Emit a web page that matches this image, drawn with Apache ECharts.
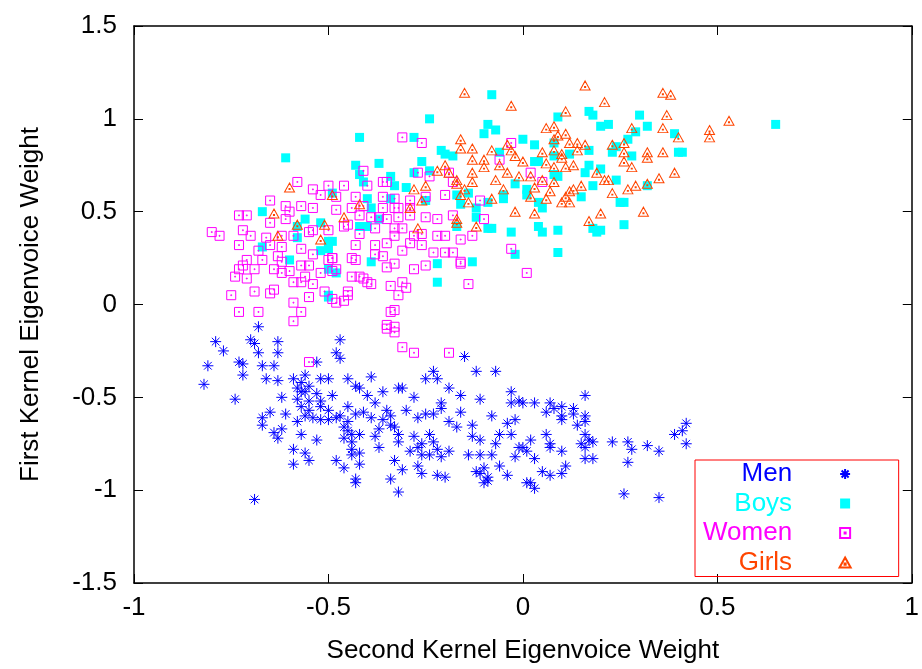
<!DOCTYPE html>
<html>
<head>
<meta charset="utf-8">
<script src="https://cdn.jsdelivr.net/npm/echarts@6/dist/echarts.min.js"></script>
<style>
  html, body { margin: 0; padding: 0; background: #fff; }
  #chart { width: 922px; height: 669px; }
</style>
</head>
<body>
<div id="chart"></div>
<script>
// [second weight, first weight] per speaker
const men = [
  [-0.79,-0.20],[-0.77,-0.25],[-0.70,-0.19],[-0.69,-0.21],[-0.63,-0.20],[-0.47,-0.19],[-0.68,-0.12],
  [-0.68,-0.26],[-0.63,-0.26],[-0.48,-0.26],[-0.47,-0.29],[-0.81,-0.33],[-0.73,-0.31],[-0.72,-0.32],
  [-0.72,-0.38],[-0.67,-0.33],[-0.64,-0.33],[-0.53,-0.31],[-0.82,-0.43],[-0.66,-0.40],[-0.63,-0.41],
  [-0.59,-0.40],[-0.56,-0.38],[-0.52,-0.40],[-0.50,-0.40],[-0.45,-0.40],[-0.43,-0.44],[-0.74,-0.51],
  [-0.62,-0.50],[-0.58,-0.45],[-0.56,-0.47],[-0.58,-0.51],[-0.55,-0.52],[-0.52,-0.52],[-0.49,-0.49],
  [-0.57,-0.55],[-0.52,-0.55],[-0.45,-0.55],[-0.43,-0.59],[-0.65,-0.58],[-0.67,-0.61],[-0.67,-0.65],
  [-0.61,-0.59],[-0.58,-0.63],[-0.56,-0.60],[-0.54,-0.61],[-0.52,-0.62],[-0.50,-0.62],[-0.48,-0.61],
  [-0.46,-0.66],[-0.45,-0.68],[-0.64,-0.69],[-0.63,-0.72],[-0.62,-0.67],[-0.57,-0.70],[-0.53,-0.73],
  [-0.46,-0.72],[-0.44,-0.78],[-0.44,-0.81],[-0.59,-0.78],[-0.56,-0.80],[-0.55,-0.84],[-0.48,-0.84],
  [-0.46,-0.88],[-0.59,-0.86],[-0.43,-0.94],[-0.69,-1.05],
  [-0.57,-0.47],[-0.55,-0.44],[-0.53,-0.48],[-0.50,-0.57],[-0.47,-0.60],[-0.45,-0.63],[-0.44,-0.70],
  [-0.44,-0.74],[-0.57,-0.42],[-0.55,-0.57],
  [-0.15,-0.28],[-0.23,-0.36],[-0.25,-0.40],[-0.22,-0.40],[-0.12,-0.36],[-0.07,-0.36],[-0.39,-0.39],
  [-0.36,-0.47],[-0.42,-0.45],[-0.32,-0.45],[-0.31,-0.45],[-0.28,-0.50],[-0.19,-0.45],[-0.16,-0.49],
  [-0.03,-0.47],[-0.11,-0.51],[-0.03,-0.53],[-0.01,-0.52],[-0.21,-0.53],[-0.38,-0.53],[-0.35,-0.57],
  [-0.30,-0.57],[-0.27,-0.61],[-0.25,-0.59],[-0.23,-0.59],[-0.21,-0.56],[-0.16,-0.58],[-0.39,-0.61],
  [-0.19,-0.63],[-0.17,-0.66],[-0.13,-0.65],[-0.08,-0.60],[-0.04,-0.64],[-0.02,-0.62],[-0.37,-0.67],
  [-0.34,-0.65],[-0.33,-0.66],[-0.32,-0.70],[-0.42,-0.70],[-0.38,-0.71],[-0.28,-0.71],[-0.24,-0.70],
  [-0.23,-0.74],[-0.13,-0.71],[-0.11,-0.73],[-0.06,-0.70],[-0.03,-0.70],[-0.07,-0.75],[-0.01,-0.77],
  [-0.37,-0.77],[-0.27,-0.77],[-0.32,-0.74],[-0.29,-0.79],[-0.26,-0.81],[-0.24,-0.81],[-0.21,-0.82],
  [-0.19,-0.79],[-0.14,-0.81],[-0.11,-0.81],[-0.08,-0.81],[-0.02,-0.82],[-0.42,-0.80],[-0.42,-0.86],
  [-0.33,-0.84],[-0.27,-0.87],[-0.31,-0.89],[-0.26,-0.91],[-0.34,-0.94],[-0.22,-0.92],[-0.20,-0.93],
  [-0.11,-0.91],[-0.09,-0.93],[-0.06,-0.87],[-0.04,-0.92],[-0.10,-0.96],[-0.09,-0.95],[-0.43,-0.96],
  [-0.32,-1.01],[0.01,-0.96],
  [-0.12,-0.90],[-0.10,-0.88],[-0.36,-0.62],[-0.34,-0.60],[-0.26,-0.75],[-0.22,-0.78],[-0.40,-0.49],
  [-0.41,-0.58],
  [0.16,-0.49],[0.00,-0.53],[0.03,-0.53],[0.07,-0.53],[0.06,-0.58],[0.08,-0.56],[0.10,-0.55],
  [0.13,-0.56],[0.10,-0.60],[0.10,-0.62],[0.13,-0.59],[0.16,-0.60],[0.16,-0.63],[0.14,-0.65],
  [0.16,-0.70],[0.17,-0.73],[0.18,-0.74],[0.15,-0.75],[0.16,-0.77],[0.06,-0.70],[0.07,-0.75],
  [0.07,-0.77],[0.02,-0.73],[0.00,-0.77],[0.01,-0.79],[0.03,-0.83],[0.10,-0.79],[0.16,-0.83],
  [0.18,-0.83],[0.23,-0.74],[0.27,-0.74],[0.28,-0.78],[0.32,-0.76],[0.35,-0.79],[0.27,-0.85],
  [0.39,-0.70],[0.41,-0.68],[0.42,-0.64],[0.42,-0.75],[0.05,-0.90],[0.07,-0.92],[0.10,-0.91],
  [0.11,-0.87],[0.02,-0.96],[0.03,-0.99],[0.26,-1.02],[0.35,-1.04]
];

const boys = [
  [-0.67,0.50],[-0.56,0.46],[-0.58,0.42],[-0.58,0.36],[-0.52,0.44],[-0.52,0.29],[-0.50,0.30],
  [-0.50,0.34],[-0.60,0.24],[-0.67,0.31],[-0.50,0.19],[-0.50,0.04],
  [-0.24,1.00],[-0.42,0.90],[-0.28,0.90],[-0.37,0.76],[-0.43,0.75],[-0.42,0.70],[-0.34,0.69],
  [-0.26,0.77],[-0.21,0.83],[-0.20,0.81],[-0.18,0.80],[-0.28,0.71],[-0.24,0.72],[-0.41,0.66],
  [-0.33,0.64],[-0.30,0.63],[-0.34,0.57],[-0.40,0.57],[-0.39,0.52],[-0.25,0.56],[-0.17,0.59],
  [-0.14,0.60],[-0.49,0.60],[-0.42,0.42],[-0.40,0.42],[-0.37,0.46],[-0.49,0.34],[-0.12,0.47],
  [-0.17,0.42],[-0.39,0.23],[-0.48,0.17],[-0.22,0.22],[-0.13,0.23],[-0.22,0.12],[-0.50,0.05],
  [-0.61,0.79],
  [-0.08,1.13],[0.09,1.01],[0.17,1.04],[0.18,1.02],[0.20,0.96],[0.22,0.97],[-0.09,0.97],
  [-0.10,0.92],[-0.07,0.94],[0.00,0.89],[0.03,0.86],[0.08,0.87],[0.08,0.80],[0.12,0.81],
  [0.17,0.83],[0.23,0.82],[0.24,0.85],[0.04,0.77],[0.03,0.77],[-0.06,0.82],[0.17,0.75],
  [0.20,0.73],[0.16,0.71],[0.08,0.70],[0.09,0.69],[0.18,0.64],[0.24,0.67],[-0.02,0.65],
  [0.01,0.62],[0.01,0.59],[0.04,0.55],[0.05,0.52],[0.15,0.58],[0.25,0.55],[-0.05,0.59],
  [-0.05,0.57],[-0.09,0.55],[-0.12,0.52],[-0.16,0.54],[-0.09,0.41],[-0.08,0.41],[-0.03,0.39],
  [0.04,0.42],[0.05,0.39],[0.09,0.40],[0.18,0.41],[0.19,0.39],[-0.02,0.27],[0.09,0.28],
  [0.65,0.97],[0.30,1.02],[0.32,0.96],[0.29,0.93],[0.39,0.92],[0.27,0.89],[0.40,0.82],
  [0.41,0.82],[0.28,0.80],[0.32,0.64],[0.26,0.55],[0.26,0.43],[0.20,0.40]
];

const women = [
  [-0.58,0.66],[-0.54,0.62],[-0.50,0.64],[-0.52,0.59],[-0.65,0.56],[-0.61,0.53],[-0.60,0.50],
  [-0.57,0.53],[-0.54,0.52],[-0.73,0.48],[-0.71,0.48],[-0.61,0.46],[-0.65,0.44],[-0.80,0.39],
  [-0.78,0.37],[-0.72,0.40],[-0.70,0.37],[-0.66,0.36],[-0.62,0.37],[-0.59,0.37],[-0.55,0.39],
  [-0.54,0.40],[-0.73,0.32],[-0.68,0.29],[-0.65,0.32],[-0.62,0.31],[-0.57,0.30],[-0.54,0.27],
  [-0.49,0.25],[-0.71,0.24],[-0.67,0.24],[-0.63,0.26],[-0.62,0.23],[-0.73,0.19],[-0.72,0.21],
  [-0.74,0.15],[-0.71,0.14],[-0.69,0.19],[-0.64,0.19],[-0.62,0.17],[-0.60,0.18],[-0.57,0.21],
  [-0.55,0.21],[-0.52,0.17],[-0.56,0.15],[-0.59,0.12],[-0.57,0.12],[-0.54,0.11],[-0.51,0.07],
  [-0.55,0.04],[-0.49,0.03],[-0.75,0.05],[-0.69,0.07],[-0.65,0.06],[-0.64,0.08],[-0.59,0.01],
  [-0.73,-0.04],[-0.68,-0.04],[-0.57,-0.04],[-0.59,-0.09],[-0.55,-0.31],
  [-0.35,-0.13],[-0.33,-0.15],[-0.31,-0.23],[-0.28,-0.26],[-0.19,-0.26],
  [-0.31,0.90],[-0.26,0.87],[-0.41,0.72],[-0.27,0.71],[-0.24,0.69],[-0.19,0.71],[-0.18,0.66],
  [-0.46,0.64],[-0.40,0.64],[-0.36,0.66],[-0.35,0.66],[-0.48,0.58],[-0.43,0.58],[-0.36,0.58],
  [-0.33,0.57],[-0.29,0.56],[-0.25,0.58],[-0.20,0.59],[-0.48,0.51],[-0.44,0.52],[-0.41,0.53],
  [-0.36,0.52],[-0.33,0.52],[-0.32,0.52],[-0.29,0.52],[-0.42,0.48],[-0.39,0.47],[-0.37,0.47],
  [-0.35,0.46],[-0.32,0.47],[-0.29,0.48],[-0.25,0.47],[-0.22,0.46],[-0.18,0.48],[-0.46,0.42],
  [-0.45,0.43],[-0.38,0.41],[-0.33,0.41],[-0.31,0.41],[-0.42,0.38],[-0.33,0.37],[-0.28,0.37],
  [-0.26,0.38],[-0.22,0.37],[-0.20,0.37],[-0.16,0.35],[-0.13,0.37],[-0.50,0.40],[-0.43,0.32],
  [-0.38,0.32],[-0.35,0.33],[-0.31,0.29],[-0.29,0.33],[-0.26,0.32],[-0.23,0.28],[-0.20,0.28],
  [-0.18,0.28],[-0.38,0.27],[-0.36,0.26],[-0.49,0.25],[-0.44,0.25],[-0.43,0.24],[-0.33,0.22],
  [-0.35,0.20],[-0.28,0.19],[-0.25,0.21],[-0.16,0.23],[-0.48,0.19],[-0.44,0.15],[-0.42,0.15],
  [-0.41,0.14],[-0.40,0.12],[-0.39,0.11],[-0.34,0.10],[-0.31,0.12],[-0.30,0.09],[-0.32,0.05],
  [-0.14,0.11],[-0.45,0.07],[-0.45,0.05],[-0.48,0.01],[-0.46,0.02],[-0.33,-0.03],[-0.34,-0.04],
  [-0.35,-0.11],[-0.33,-0.12],[-0.50,0.24],[-0.49,0.18],
  [-0.03,0.87],[-0.06,0.78],[0.02,0.71],[0.05,0.66],[-0.11,0.56],[-0.10,0.46],[-0.03,0.30],
  [0.01,0.17],[-0.16,0.22]
];

const girls = [
  [-0.60,0.63],[-0.64,0.49],[-0.58,0.43],[-0.51,0.43],[-0.63,0.37],[-0.52,0.35],[-0.49,0.59],
  [-0.16,0.89],[-0.13,0.84],[-0.16,0.84],[-0.13,0.78],[-0.13,0.71],[-0.20,0.75],[-0.22,0.72],
  [-0.19,0.71],[-0.17,0.67],[-0.17,0.65],[-0.13,0.66],[-0.15,0.62],[-0.16,0.59],[-0.14,0.55],
  [-0.25,0.64],[-0.28,0.62],[-0.26,0.56],[-0.29,0.52],[-0.42,0.54],[-0.46,0.47],[-0.27,0.41],
  [-0.17,0.46],[-0.17,0.44],[-0.12,0.42],
  [-0.15,1.14],[0.16,1.18],[-0.03,1.07],[0.21,1.09],[0.11,1.04],[0.06,0.95],[0.08,0.96],
  [0.09,0.91],[0.11,0.92],[0.08,0.89],[0.12,0.87],[0.14,0.87],[0.16,0.86],[0.23,0.86],
  [0.14,0.83],[0.08,0.83],[0.10,0.81],[0.10,0.79],[0.05,0.82],[0.06,0.76],[0.08,0.74],
  [0.11,0.74],[0.13,0.75],[0.19,0.71],[0.21,0.67],[0.22,0.67],[0.23,0.60],[0.15,0.64],
  [0.13,0.62],[0.12,0.61],[0.11,0.58],[0.12,0.55],[0.10,0.55],[0.08,0.66],[0.05,0.67],
  [0.03,0.63],[0.07,0.61],[0.06,0.57],[0.02,0.58],[0.02,0.69],[-0.01,0.69],[-0.04,0.71],
  [0.00,0.77],[-0.02,0.80],[-0.03,0.83],[-0.04,0.86],[-0.08,0.83],[-0.06,0.75],[-0.10,0.78],
  [-0.10,0.74],[-0.07,0.67],[-0.05,0.62],[-0.08,0.57],[-0.02,0.50],[0.03,0.49],[0.17,0.45],
  [0.20,0.49],
  [0.36,1.14],[0.38,1.13],[0.37,1.02],[0.53,0.99],[0.48,0.94],[0.48,0.90],[0.36,0.95],
  [0.40,0.90],[0.28,0.95],[0.26,0.87],[0.26,0.82],[0.32,0.82],[0.32,0.79],[0.36,0.82],
  [0.26,0.77],[0.28,0.74],[0.39,0.71],[0.35,0.68],[0.29,0.64],[0.27,0.62],[0.32,0.65],
  [0.31,0.50]
];

const seriesNames = ['Men', 'Boys', 'Women', 'Girls'];
const seriesColors = ['#0000ff', '#00ffff', '#ff00ff', '#ff4500'];

const FONT = '"Liberation Sans", Arial, Helvetica, sans-serif';

// gnuplot style point shapes
const asterisk = 'path://M5 0V10M0 5H10M1.5 1.5L8.5 8.5M1.5 8.5L8.5 1.5';
const box = 'path://M0 0H10V10H0Z';
const boxDot = 'path://M0 0H10V10H0ZM4.5 4.5H5.5V5.5H4.5Z';
const triDot = 'path://M5 0L10 9L0 9ZM4.5 5.5H5.5V6.5H4.5Z';

let chart = echarts.init(document.getElementById('chart'));

const axisCommon = {
  axisLine: { onZero: false, lineStyle: { color: '#000', width: 1.5 } },
  axisTick: { inside: true, length: 9, lineStyle: { color: '#000', width: 1 } },
  splitLine: { show: false },
};

chart.setOption({
  animation: false,
  backgroundColor: '#fff',
  grid: { left: 134, right: 10, top: 26, bottom: 84 },
  legend: {
    orient: 'vertical',
    left: 695,
    top: 460,
    align: 'right',
    itemWidth: 96,
    itemHeight: 10,
    itemGap: 3.5,
    padding: [1, 47, 1, 8],
    borderColor: '#ff0000',
    borderWidth: 1,
    selectedMode: false,
    textStyle: { fontSize: 26, fontFamily: FONT },
    data: seriesNames.map((n, i) => ({ name: n, textStyle: { color: seriesColors[i] } })),
  },
  xAxis: [
    Object.assign({
      type: 'value', min: -1, max: 1, interval: 0.5,
      name: 'Second Kernel Eigenvoice Weight',
      nameLocation: 'middle', nameGap: 55,
      nameTextStyle: { fontSize: 26, fontFamily: FONT, color: '#000' },
      axisLabel: { fontSize: 26, fontFamily: FONT, color: '#000', margin: 12 },
    }, axisCommon),
    Object.assign({
      type: 'value', min: -1, max: 1, interval: 0.5, position: 'top',
      axisLabel: { show: false },
    }, axisCommon),
  ],
  yAxis: [
    Object.assign({
      type: 'value', min: -1.5, max: 1.5, interval: 0.5,
      name: 'First Kernel Eigenvoice Weight',
      nameLocation: 'middle', nameGap: 90,
      nameTextStyle: { fontSize: 26, fontFamily: FONT, color: '#000' },
      axisLabel: { fontSize: 26, fontFamily: FONT, color: '#000', margin: 17 },
    }, axisCommon),
    Object.assign({
      type: 'value', min: -1.5, max: 1.5, interval: 0.5, position: 'right',
      axisLabel: { show: false },
    }, axisCommon),
  ],
  series: [
    {
      name: 'Men', type: 'scatter', data: men,
      symbol: asterisk, symbolSize: 11,
      itemStyle: { color: 'transparent', borderColor: seriesColors[0], borderWidth: 1, opacity: 1 },
    },
    {
      name: 'Boys', type: 'scatter', data: boys,
      symbol: box, symbolSize: 9,
      itemStyle: { color: seriesColors[1], opacity: 1 },
    },
    {
      name: 'Women', type: 'scatter', data: women,
      symbol: boxDot, symbolSize: 9,
      itemStyle: { color: 'transparent', borderColor: seriesColors[2], borderWidth: 1, opacity: 1 },
    },
    {
      name: 'Girls', type: 'scatter', data: girls,
      symbol: triDot, symbolSize: [10, 9],
      itemStyle: { color: 'transparent', borderColor: seriesColors[3], borderWidth: 1, opacity: 1 },
    },
  ],
});
</script>
</body>
</html>
